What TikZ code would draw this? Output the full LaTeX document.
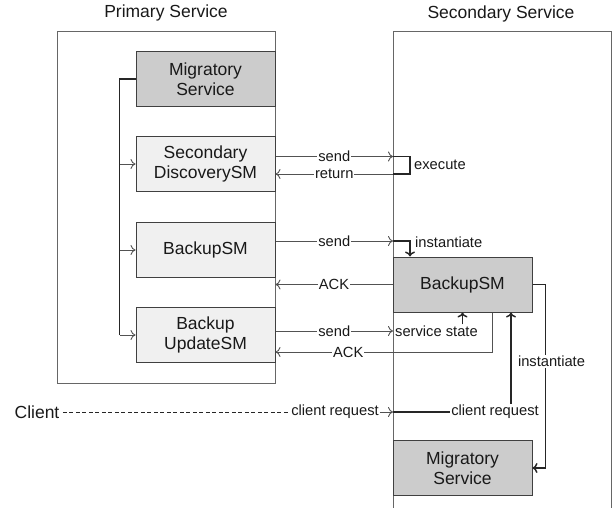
\documentclass[tikz,border=0pt]{standalone}
\usepackage{fontspec}
\setmainfont{Liberation Sans}
\usetikzlibrary{arrows.meta, positioning, calc}
\newcommand{\boxfont}{\fontsize{17.5}{19.5}\selectfont}
\newcommand{\lblfont}{\fontsize{14.7}{16}\selectfont}
\tikzset{
  comp/.style={rectangle, draw=black!75, line width=1pt,
               minimum width=139pt, minimum height=55pt,
               align=center, font=\boxfont, text=black!90, inner sep=0pt},
  sm/.style={comp, fill=gray!12},
  mig/.style={comp, fill=gray!40},
  title/.style={font=\boxfont, text=black!90},
  lbl/.style={fill=white, font=\lblfont, text=black!90, inner sep=1pt},
  frame/.style={line width=0.9pt, black!60},
  arr/.style={-{To[length=5pt,width=10pt]}, line width=0.9pt, black!68},
  tharr/.style={-{To[length=5pt,width=10pt]}, line width=1.4pt, black!85},
  thline/.style={line width=1.4pt, black!85},
}

\begin{document}
\begin{tikzpicture}[x=1pt, y=-1pt]
  \useasboundingbox (0,0) rectangle (615,508);

  % containers
  \draw[frame] (57,31) rectangle (275,383);
  \draw[frame] (393,508) -- (393,31) -- (611,31) -- (611,508);
  \node[title] (ptitle) at (166,13) {Primary Service};
  \node[title] (stitle) at (501,14) {Secondary Service};

  % primary side
  \node[mig] (pmig) at (205.5,79) {Migratory\\Service};
  \node[sm, below=29pt of pmig] (pdisc) {Secondary\\DiscoverySM};
  \node[sm, below=30pt of pdisc] (pbsm) {BackupSM};
  \node[sm, below=29pt of pbsm] (pupd) {Backup\\UpdateSM};

  \coordinate (brk) at ([xshift=-16pt]pmig.west);
  \draw[line width=1.1pt, black!85] (pmig.west) -- (brk) -- (brk |- pupd.west);
  \foreach \n in {pdisc, pbsm, pupd}
    \draw[arr] (brk |- \n.west) -- (\n.west);

  % secondary side
  \node[mig] (sbsm) at (462.5,284.5) {BackupSM};
  \node[mig] (smig) at (462.5,468) {Migratory\\Service};

  % discovery
  \coordinate (dsend) at (393,156.5);
  \coordinate (dret) at (393,174);
  \draw[arr] (pdisc.east |- dsend) -- node[lbl]{send} (dsend);
  \draw[arr] (dret) -- node[lbl]{return} (pdisc.east |- dret);
  \draw[thline] (dsend) -- ++(17,0) |- (dret);
  \node[lbl, anchor=west] (exec) at (413,165) {execute};

  % backup
  \coordinate (bsend) at (393,241);
  \draw[arr] (pbsm.east |- bsend) -- node[lbl]{send} (bsend);
  \draw[tharr] (bsend) -| ([xshift=-52.5pt]sbsm.north);
  \node[lbl, anchor=west] (inst1) at (414,242) {instantiate};
  \draw[arr] (sbsm.west) -- node[lbl]{ACK} (pbsm.east |- sbsm.west);

  % update
  \coordinate (usend) at (393,331);
  \draw[arr] (pupd.east |- usend) -- node[lbl]{send} (usend);
  \node[lbl, anchor=west] (sstate) at (394,331) {service state};
  \draw[tharr] (sstate.north -| sbsm.south) -- (sbsm.south);
  \coordinate (ackc) at (492,352);
  \draw[arr] ([xshift=29.5pt]sbsm.south) -- (ackc)
    -- node[lbl, pos=0.664]{ACK} (pupd.east |- ackc);

  % client
  \node[title] (client) at (37,412) {Client};
  \node[lbl] (cr1) at (335,412) {client request};
  \coordinate (crin) at (393,412);
  \draw[line width=1pt, black!85, dash pattern=on 4pt off 2.5pt] (client.east) -- (cr1.west);
  \draw[arr] (cr1.east) -- (crin);
  \node[lbl] (cr2) at (495,412) {client request};
  \draw[thline] (crin) -- (cr2.west);
  \draw[tharr] ([xshift=48.5pt]sbsm.south |- cr2.north) -- ([xshift=48.5pt]sbsm.south);

  % instantiate migratory
  \draw[tharr] (sbsm.east) -- ++(13,0) |- node[lbl, pos=0.21, xshift=6pt]{instantiate} (smig.east);

\end{tikzpicture}
\end{document}
